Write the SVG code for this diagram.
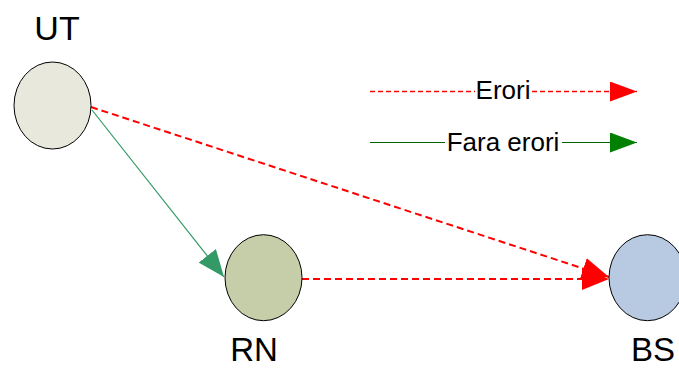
<svg xmlns="http://www.w3.org/2000/svg" width="679" height="368" viewBox="0 0 679 368">
<style>
.lbl{font-family:"Liberation Sans",Arial,sans-serif;font-size:34px;fill:#000}
.lbl2{font-family:"Liberation Sans",Arial,sans-serif;font-size:33px;fill:#000}
.leg{font-family:"Liberation Sans",Arial,sans-serif;font-size:26px;fill:#000}
.node{stroke:#000;stroke-width:1}
.err{stroke:#ff0000;stroke-width:2;stroke-dasharray:7,4;fill:none}
</style>
<defs>
<marker id="redArrow" markerUnits="userSpaceOnUse" markerWidth="28" markerHeight="22" refX="27" refY="11" orient="auto">
<path d="M0,0 L27,11 L0,22 Z" fill="#ff0000"/>
</marker>
<marker id="greenArrow" markerUnits="userSpaceOnUse" markerWidth="28" markerHeight="22" refX="27" refY="11" orient="auto">
<path d="M0,0 L27,11 L0,22 Z" fill="#339966"/>
</marker>
<marker id="legRed" markerUnits="userSpaceOnUse" markerWidth="28" markerHeight="22" refX="27" refY="10" orient="auto">
<path d="M0,0 L27,10 L0,20 Z" fill="#ff0000"/>
</marker>
<marker id="legGreen" markerUnits="userSpaceOnUse" markerWidth="28" markerHeight="22" refX="27" refY="10" orient="auto">
<path d="M0,0 L27,10 L0,20 Z" fill="#008000"/>
</marker>
</defs>
<g id="connectors">
<line x1="92" y1="110" x2="224" y2="277" stroke="#339966" stroke-width="1.2" marker-end="url(#greenArrow)"/>
<line x1="91" y1="107" x2="609" y2="277" class="err" marker-end="url(#redArrow)"/>
<line x1="302" y1="279" x2="609" y2="279" class="err" marker-end="url(#redArrow)"/>
</g>
<g id="UT">
<ellipse cx="52.5" cy="105.5" rx="38.5" ry="43.5" fill="#e8e9dc" class="node"/>
<text x="57" y="40" text-anchor="middle" class="lbl">UT</text>
</g>
<g id="RN">
<ellipse cx="263.5" cy="277.7" rx="38.5" ry="43" fill="#c5cda9" class="node"/>
<text x="254" y="361" text-anchor="middle" class="lbl2">RN</text>
</g>
<g id="BS">
<ellipse cx="647.5" cy="277.7" rx="38.5" ry="43" fill="#b8c9e2" class="node"/>
<text x="653" y="361" text-anchor="middle" class="lbl2">BS</text>
</g>
<g id="legend">
<line x1="370" y1="91.5" x2="475" y2="91.5" stroke="#ff0000" stroke-width="1.3" stroke-dasharray="5,3"/>
<line x1="532" y1="91.5" x2="637" y2="91.5" stroke="#ff0000" stroke-width="1.3" stroke-dasharray="5,3" marker-end="url(#legRed)"/>
<text x="503" y="99" text-anchor="middle" class="leg">Erori</text>
<line x1="370" y1="142.5" x2="445" y2="142.5" stroke="#006400" stroke-width="1"/>
<line x1="562" y1="142.5" x2="637" y2="142.5" stroke="#006400" stroke-width="1" marker-end="url(#legGreen)"/>
<text x="503" y="151" text-anchor="middle" class="leg">Fara erori</text>
</g>
</svg>
